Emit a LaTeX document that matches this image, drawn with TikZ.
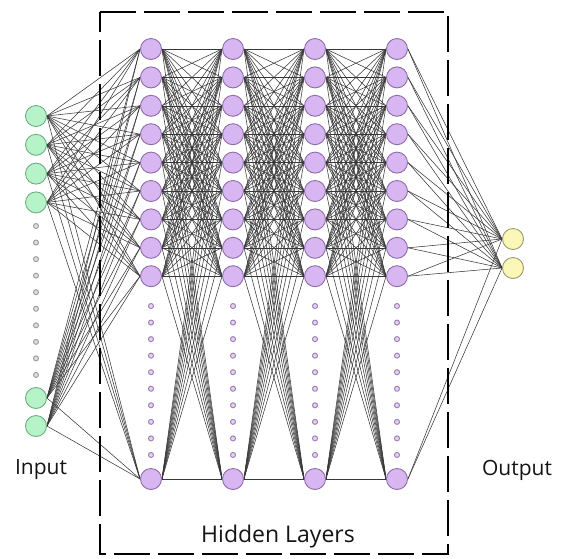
\documentclass[tikz,border=0pt]{standalone}
\usepackage{fontspec}
\setmainfont{Open Sans}
\pgfdeclarelayer{background}
\pgfsetlayers{background,main}
\definecolor{ingreen}{HTML}{B6F3C8}
\definecolor{ingreenb}{HTML}{6FAE80}
\definecolor{hidpurple}{HTML}{D8B6F1}
\definecolor{hidpurpleb}{HTML}{8E6CA6}
\definecolor{outyellow}{HTML}{FBF7B8}
\definecolor{outyellowb}{HTML}{9C9A6C}
\tikzset{
  neuron/.style={circle, minimum size=21pt, inner sep=0pt, line width=0.9pt},
  inneuron/.style={neuron, fill=ingreen, draw=ingreenb},
  hidneuron/.style={neuron, fill=hidpurple, draw=hidpurpleb},
  outneuron/.style={neuron, fill=outyellow, draw=outyellowb},
  indot/.style={circle, minimum size=5pt, inner sep=0pt, fill=gray!25, draw=gray!75, line width=1pt},
  hiddot/.style={circle, minimum size=5pt, inner sep=0pt, fill=hidpurple!60, draw=hidpurpleb!85, line width=1pt},
  conn/.style={draw=black!78, line width=0.55pt},
  label/.style={font=\fontsize{21}{24}\selectfont, text=black!92, inner sep=0pt},
  frame/.style={draw=black, line width=2.6pt, dash pattern=on 36pt off 8pt}
}
\begin{document}
\begin{tikzpicture}[x=1pt,y=-1pt]
\useasboundingbox (0,0) rectangle (563,558);
% dashed frame
\draw[frame] (100,12) -- (448,12) -- (448,554) -- (100,554) -- cycle;
% input layer
\foreach \k/\y in {1/116,2/144.8,3/173.6,4/202.4,5/398,6/426}
  \node[inneuron] (in\k) at (36,\y) {};
\foreach \i in {0,...,9}
  \node[indot] (ind\i) at (36,226+16.55*\i) {};
% hidden layers
\foreach \l/\x in {1/151,2/233,3/315,4/397}{
  \foreach \k in {1,...,9}
    \node[hidneuron] (h\l-\k) at (\x,49+28.4*\k-28.4) {};
  \node[hidneuron] (h\l-10) at (\x,479) {};
  \foreach \i in {0,...,9}
    \node[hiddot] (hd\l-\i) at (\x,306+16.55*\i) {};
}
% output layer
\node[outneuron] (out1) at (513,239) {};
\node[outneuron] (out2) at (513,268) {};
% connections
\begin{pgfonlayer}{background}
\foreach \a in {1,...,6}
  \foreach \b in {1,...,10}
    \draw[conn] (in\a.east) -- (h1-\b.west);
\foreach \l/\m in {1/2,2/3,3/4}
  \foreach \a in {1,...,10}
    \foreach \b in {1,...,10}
      \draw[conn] (h\l-\a.east) -- (h\m-\b.west);
\foreach \a in {1,...,10}
  \foreach \b in {1,2}
    \draw[conn] (h4-\a.east) -- (out\b.west);
\end{pgfonlayer}
% labels
\node[label] (linput) at (41,470) {Input};
\node[label] (loutput) at (517,470) {Output};
\node[label, font=\fontsize{23}{26}\selectfont] (lhidden) at (278,537) {Hidden Layers};
\end{tikzpicture}
\end{document}
